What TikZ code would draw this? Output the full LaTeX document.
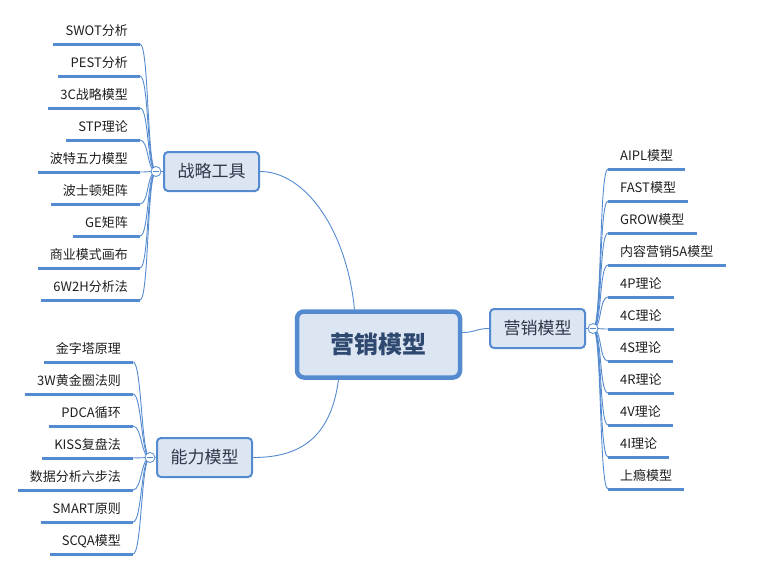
\documentclass[tikz,border=0pt]{standalone}
\usepackage{fontspec}
\setmainfont{Noto Sans CJK SC}
\usetikzlibrary{shapes}
\usetikzlibrary{positioning}
\definecolor{mapblue}{RGB}{84,138,208}
\definecolor{mapfill}{RGB}{220,230,243}
\definecolor{maptext}{RGB}{46,72,112}
\definecolor{subtext}{RGB}{45,55,72}
\tikzset{
    rootnode/.style = {rectangle, rounded corners=7pt, line width=4.5pt, draw=mapblue, fill=mapfill, minimum width=163pt, minimum height=66pt, font=\fontsize{24}{28}\selectfont\bfseries, text=maptext},
    subnode/.style = {rectangle, rounded corners=4pt, line width=2pt, draw=mapblue, fill=mapfill, minimum width=95pt, minimum height=39pt, font=\fontsize{17}{20}\selectfont, text=subtext},
    leafl/.style = {anchor=south east, inner xsep=12pt, inner ysep=5pt, text depth=3pt, font=\fontsize{13}{15}\selectfont, text=black!88},
    leafr/.style = {anchor=south west, inner xsep=12pt, inner ysep=5pt, text depth=3pt, font=\fontsize{13}{15}\selectfont, text=black!88},
    fold/.style = {circle, line width=0.8pt, draw=mapblue, fill=white, minimum size=10pt, inner sep=0pt,
        path picture={\draw[mapblue, line width=0.7pt] ([xshift=-2.6pt]path picture bounding box.center) -- ([xshift=2.6pt]path picture bounding box.center);}},
    uline/.style = {-, line width=3pt, mapblue},
    edgen/.style = {-, line width=0.9pt, mapblue}
}

\begin{document}
\begin{tikzpicture}[x=1pt,y=-1pt]
\useasboundingbox (0,0) rectangle (776,576);

\node[rootnode] at (378.5, 344.5) (root) {营销模型};
\node[subnode] at (211.5, 171.5) (zl) {战略工具};
\node[subnode] at (204.5, 457.5) (nl) {能力模型};
\node[subnode] at (537.5, 328.5) (ml) {营销模型};

\draw[edgen] (zl.east) .. controls +(45,0) and +(-8,-80) .. ([xshift=-24pt]root.north);
\draw[edgen] (nl.east) .. controls +(45,0) and +(-8,60) .. ([xshift=-40pt]root.south);
\draw[edgen] ([yshift=12pt]root.east) .. controls +(12,0) and +(-12,0) .. (ml.west);

% 战略工具
\node[leafl] at (140,  44) (s1) {SWOT分析};
\node[leafl] at (140,  76) (s2) {PEST分析};
\node[leafl] at (140, 108) (s3) {3C战略模型};
\node[leafl] at (140, 140) (s4) {STP理论};
\node[leafl] at (140, 172) (s5) {波特五力模型};
\node[leafl] at (140, 204) (s6) {波士顿矩阵};
\node[leafl] at (140, 236) (s7) {GE矩阵};
\node[leafl] at (140, 268) (s8) {商业模式画布};
\node[leafl] at (140, 300) (s9) {6W2H分析法};
\coordinate[left=7pt of zl.west] (zc);

\draw[uline] (s1.south west) -- (s1.south east); \draw[edgen] (zc) .. controls +(-9,0) and +(9,0) .. (s1.south east);
\draw[uline] (s2.south west) -- (s2.south east); \draw[edgen] (zc) .. controls +(-9,0) and +(9,0) .. (s2.south east);
\draw[uline] (s3.south west) -- (s3.south east); \draw[edgen] (zc) .. controls +(-9,0) and +(9,0) .. (s3.south east);
\draw[uline] (s4.south west) -- (s4.south east); \draw[edgen] (zc) .. controls +(-9,0) and +(9,0) .. (s4.south east);
\draw[uline] (s5.south west) -- (s5.south east); \draw[edgen] (zc) .. controls +(-9,0) and +(9,0) .. (s5.south east);
\draw[uline] (s6.south west) -- (s6.south east); \draw[edgen] (zc) .. controls +(-9,0) and +(9,0) .. (s6.south east);
\draw[uline] (s7.south west) -- (s7.south east); \draw[edgen] (zc) .. controls +(-9,0) and +(9,0) .. (s7.south east);
\draw[uline] (s8.south west) -- (s8.south east); \draw[edgen] (zc) .. controls +(-9,0) and +(9,0) .. (s8.south east);
\draw[uline] (s9.south west) -- (s9.south east); \draw[edgen] (zc) .. controls +(-9,0) and +(9,0) .. (s9.south east);

% 能力模型
\node[leafl] at (133, 362) (n1) {金字塔原理};
\node[leafl] at (133, 394) (n2) {3W黄金圈法则};
\node[leafl] at (133, 426) (n3) {PDCA循环};
\node[leafl] at (133, 458) (n4) {KISS复盘法};
\node[leafl] at (133, 490) (n5) {数据分析六步法};
\node[leafl] at (133, 522) (n6) {SMART原则};
\node[leafl] at (133, 554) (n7) {SCQA模型};
\coordinate[left=6pt of nl.west] (nc);

\draw[uline] (n1.south west) -- (n1.south east); \draw[edgen] (nc) .. controls +(-9,0) and +(9,0) .. (n1.south east);
\draw[uline] (n2.south west) -- (n2.south east); \draw[edgen] (nc) .. controls +(-9,0) and +(9,0) .. (n2.south east);
\draw[uline] (n3.south west) -- (n3.south east); \draw[edgen] (nc) .. controls +(-9,0) and +(9,0) .. (n3.south east);
\draw[uline] (n4.south west) -- (n4.south east); \draw[edgen] (nc) .. controls +(-9,0) and +(9,0) .. (n4.south east);
\draw[uline] (n5.south west) -- (n5.south east); \draw[edgen] (nc) .. controls +(-9,0) and +(9,0) .. (n5.south east);
\draw[uline] (n6.south west) -- (n6.south east); \draw[edgen] (nc) .. controls +(-9,0) and +(9,0) .. (n6.south east);
\draw[uline] (n7.south west) -- (n7.south east); \draw[edgen] (nc) .. controls +(-9,0) and +(9,0) .. (n7.south east);

% 营销模型
\node[leafr] at (608, 169) (m1) {AIPL模型};
\node[leafr] at (608, 201) (m2) {FAST模型};
\node[leafr] at (608, 233) (m3) {GROW模型};
\node[leafr] at (608, 265) (m4) {内容营销5A模型};
\node[leafr] at (608, 297) (m5) {4P理论};
\node[leafr] at (608, 329) (m6) {4C理论};
\node[leafr] at (608, 361) (m7) {4S理论};
\node[leafr] at (608, 393) (m8) {4R理论};
\node[leafr] at (608, 425) (m9) {4V理论};
\node[leafr] at (608, 457) (m10) {4I理论};
\node[leafr] at (608, 489) (m11) {上瘾模型};
\coordinate[right=7pt of ml.east] (mc);

\draw[uline] (m1.south west) -- (m1.south east); \draw[edgen] (mc) .. controls +(9,0) and +(-9,0) .. (m1.south west);
\draw[uline] (m2.south west) -- (m2.south east); \draw[edgen] (mc) .. controls +(9,0) and +(-9,0) .. (m2.south west);
\draw[uline] (m3.south west) -- (m3.south east); \draw[edgen] (mc) .. controls +(9,0) and +(-9,0) .. (m3.south west);
\draw[uline] (m4.south west) -- (m4.south east); \draw[edgen] (mc) .. controls +(9,0) and +(-9,0) .. (m4.south west);
\draw[uline] (m5.south west) -- (m5.south east); \draw[edgen] (mc) .. controls +(9,0) and +(-9,0) .. (m5.south west);
\draw[uline] (m6.south west) -- (m6.south east); \draw[edgen] (mc) .. controls +(9,0) and +(-9,0) .. (m6.south west);
\draw[uline] (m7.south west) -- (m7.south east); \draw[edgen] (mc) .. controls +(9,0) and +(-9,0) .. (m7.south west);
\draw[uline] (m8.south west) -- (m8.south east); \draw[edgen] (mc) .. controls +(9,0) and +(-9,0) .. (m8.south west);
\draw[uline] (m9.south west) -- (m9.south east); \draw[edgen] (mc) .. controls +(9,0) and +(-9,0) .. (m9.south west);
\draw[uline] (m10.south west) -- (m10.south east); \draw[edgen] (mc) .. controls +(9,0) and +(-9,0) .. (m10.south west);
\draw[uline] (m11.south west) -- (m11.south east); \draw[edgen] (mc) .. controls +(9,0) and +(-9,0) .. (m11.south west);

% collapse buttons
\node[fold] at (zc) (zb) {};
\node[fold] at (nc) (nb) {};
\node[fold] at (mc) (mb) {};
\draw[edgen] (zb) -- (zl);
\draw[edgen] (nb) -- (nl);
\draw[edgen] (mb) -- (ml);

\end{tikzpicture}
\end{document}
